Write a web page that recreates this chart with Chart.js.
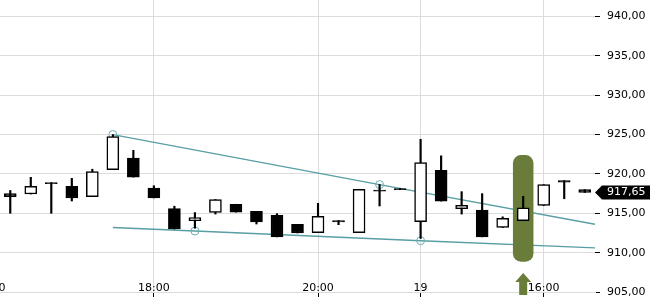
<!DOCTYPE html>
<html>
<head>
<meta charset="utf-8">
<script src="https://cdn.jsdelivr.net/npm/chart.js@4/dist/chart.umd.min.js"></script>
<style>
  html, body { margin: 0; padding: 0; background: #fff; }
  #wrap { width: 650px; height: 300px; }
</style>
</head>
<body>
<div id="wrap"><canvas id="canvas"></canvas></div>
<script>
// 15 minute candles
var times = ['16:15','16:30','16:45','17:00','17:15','17:30','17:45','18:00','18:15','18:30',
             '18:45','19:00','19:15','19:30','19:45','20:00','20:15','20:30','20:45','21:00',
             '14:30','14:45','15:00','15:15','15:30','15:45','16:00','16:15','16:30'];
var open  = [917.5, 917.45, 918.9, 918.43, 917.12, 920.55, 922.0, 918.2, 915.6, 914.07,
             915.1, 916.15, 915.25, 914.75, 913.6, 912.55, 914.07, 912.55, 917.95, 918.15,
             913.95, 920.45, 915.6, 915.4, 913.2, 914.05, 916.0, 919.15, 918.0];
var high  = [917.9, 919.57, 918.9, 919.44, 920.6, 925.0, 923.0, 918.5, 915.9, 915.09,
             916.75, 916.15, 915.25, 914.96, 913.6, 916.27, 914.07, 918.05, 918.65, 918.15,
             924.4, 922.3, 917.75, 917.5, 914.55, 917.15, 918.65, 919.15, 918.0];
var low   = [915.0, 917.45, 915.0, 916.56, 917.12, 920.55, 919.6, 916.95, 913.0, 913.1,
             914.9, 915.15, 913.64, 912.0, 912.5, 912.55, 913.55, 912.55, 915.93, 918.0,
             911.8, 916.55, 914.9, 912.0, 913.2, 914.05, 915.98, 916.85, 917.65];
var close = [917.12, 918.43, 918.75, 916.94, 920.3, 924.75, 919.6, 916.95, 913.0, 914.45,
             916.75, 915.15, 913.9, 912.0, 912.5, 914.6, 913.9, 918.05, 917.8, 918.0,
             921.45, 916.55, 916.0, 912.0, 914.35, 915.7, 918.65, 918.97, 917.65];

// x axis labels (index -1 is the candle just left of the view)
var tickIdx  = [-1, 7, 15, 20, 26];
var tickText = ['16:00', '18:00', '20:00', '19', '16:00'];

// trend lines (candle index, price)
var upperLine = [{x: 5, y: 925.0}, {x: 18, y: 918.65}, {x: 28.5, y: 913.6}];
var lowerLine = [{x: 5, y: 913.2}, {x: 9, y: 912.75}, {x: 20, y: 911.52}, {x: 28.5, y: 910.6}];

// highlighted candle
var markIdx = 25;
var markRange = [908.85, 922.4];

var fmt = function(v){ return v.toFixed(2).replace('.', ','); };
var FONT = '11px "DejaVu Sans"';
var GREEN = '#6a7c3a';
var TEAL = 'rgba(88,158,165,1)';

var bodies = [], wicks = [], fills = [];
for (var i = 0; i < times.length; i++) {
  bodies.push({x: i, y: [open[i], close[i]]});
  wicks.push({x: i, y: [low[i], high[i]]});
  fills.push(close[i] >= open[i] ? '#ffffff' : '#000000');
}

var noPad = function(s){ s.paddingLeft = 0; s.paddingRight = 0; s.paddingTop = 0; s.paddingBottom = 0; };

var extras = {
  id: 'extras',
  beforeDatasetDraw: function(chart, args) {
    if (args.index !== 2) return;
    var ctx = chart.ctx, xs = chart.scales.x, ys = chart.scales.y;
    var cx = xs.getPixelForValue(markIdx);
    var w = xs.getPixelForValue(1) - xs.getPixelForValue(0);
    var top = ys.getPixelForValue(markRange[1]), bot = ys.getPixelForValue(markRange[0]);
    ctx.save();
    ctx.fillStyle = GREEN;
    ctx.beginPath();
    ctx.roundRect(cx - w / 2, top, w, bot - top, 8);
    ctx.fill();
    ctx.restore();
  },
  afterDraw: function(chart) {
    var ctx = chart.ctx, xs = chart.scales.x, ys = chart.scales.y, area = chart.chartArea;
    ctx.save();
    // arrow under the highlighted candle
    var ax = xs.getPixelForValue(markIdx);
    ctx.fillStyle = GREEN;
    ctx.beginPath();
    ctx.moveTo(ax, area.bottom - 19);
    ctx.lineTo(ax + 8, area.bottom - 10);
    ctx.lineTo(ax + 4, area.bottom - 10);
    ctx.lineTo(ax + 4, area.bottom + 3);
    ctx.lineTo(ax - 4, area.bottom + 3);
    ctx.lineTo(ax - 4, area.bottom - 10);
    ctx.lineTo(ax - 8, area.bottom - 10);
    ctx.closePath();
    ctx.fill();
    // x labels sit above the axis line
    ctx.font = FONT;
    ctx.fillStyle = '#000';
    ctx.textAlign = 'center';
    ctx.textBaseline = 'alphabetic';
    for (var k = 0; k < tickIdx.length; k++) {
      ctx.fillText(tickText[k], xs.getPixelForValue(tickIdx[k]), area.bottom - 1);
    }
    // last price tag
    var last = close[close.length - 1];
    var py = Math.round(ys.getPixelForValue(last)) + 0.5;
    var x0 = area.right;
    ctx.fillStyle = '#000';
    ctx.beginPath();
    ctx.moveTo(x0, py);
    ctx.lineTo(x0 + 7, py - 7);
    ctx.lineTo(chart.width, py - 7);
    ctx.lineTo(chart.width, py + 7);
    ctx.lineTo(x0 + 7, py + 7);
    ctx.closePath();
    ctx.fill();
    ctx.fillStyle = '#fff';
    ctx.textAlign = 'left';
    ctx.textBaseline = 'middle';
    ctx.fillText(fmt(last), x0 + 12, py);
    ctx.restore();
  }
};

var lineDs = function(data, radii) {
  return {
    type: 'line', data: data, order: 3,
    borderColor: TEAL, borderWidth: 1.4,
    pointRadius: radii, pointBorderColor: 'rgba(110,175,182,1)', pointBorderWidth: 1,
    pointBackgroundColor: 'rgba(0,0,0,0)', tension: 0
  };
};

new Chart(document.getElementById('canvas'), {
  type: 'bar',
  data: {
    datasets: [
      lineDs(upperLine, [4, 4, 0]),
      lineDs(lowerLine, [0, 4, 4, 0]),
      { data: wicks, backgroundColor: '#000', borderWidth: 0, barThickness: 1.5, grouped: false, order: 2 },
      { data: bodies, backgroundColor: fills, borderColor: '#000', borderWidth: 1.5,
        borderSkipped: false, barThickness: 12, grouped: false, order: 1 }
    ]
  },
  options: {
    responsive: true,
    maintainAspectRatio: false,
    animation: false,
    events: [],
    layout: { padding: 0, autoPadding: false },
    plugins: { legend: { display: false }, tooltip: { enabled: false } },
    scales: {
      x: {
        type: 'linear',
        min: -0.5,
        max: 28.5,
        offset: false,
        grid: { offset: false, color: '#dcdcdc', tickColor: '#000', tickLength: 5 },
        border: { display: true, color: '#dcdcdc' },
        ticks: { display: false },
        afterBuildTicks: function(s){
          s.ticks = tickIdx.filter(function(v){ return v >= 0; }).map(function(v){ return {value: v}; });
        },
        afterFit: function(s){ s.height = 8; noPad(s); }
      },
      y: {
        position: 'right',
        min: 905,
        max: 942.1,
        grid: { color: '#dcdcdc', tickColor: '#000', tickLength: 5 },
        border: { display: false },
        ticks: {
          stepSize: 5,
          padding: 7,
          color: '#000',
          font: { family: 'DejaVu Sans', size: 11 },
          callback: function(v){ return fmt(v); }
        },
        afterBuildTicks: function(s){
          s.ticks = s.ticks.filter(function(t){ return Math.abs(t.value % 5) < 1e-6; });
        },
        afterFit: function(s){ s.width = 55; noPad(s); }
      }
    }
  },
  plugins: [extras]
});
</script>
</body>
</html>
